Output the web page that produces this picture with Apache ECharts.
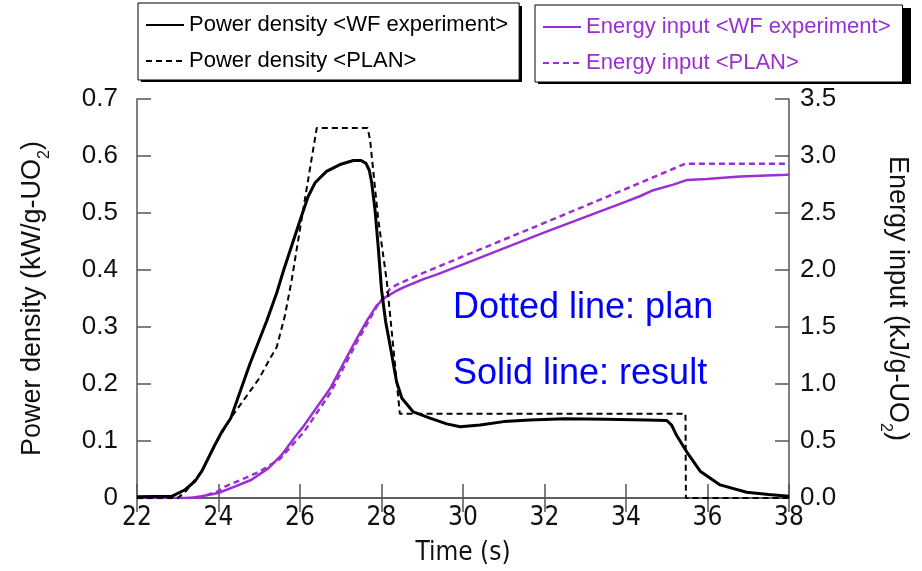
<!DOCTYPE html>
<html><head><meta charset="utf-8">
<script src="https://cdn.jsdelivr.net/npm/echarts@6/dist/echarts.min.js"></script>
<style>html,body{margin:0;padding:0;background:#fff}#c{width:922px;height:571px}</style>
</head><body><div id="c"></div>
<script>
// ---------- data ----------
const seriesNames = [
  'Power density <WF experiment>',
  'Power density <PLAN>',
  'Energy input <WF experiment>',
  'Energy input <PLAN>'
];
const xTicks = [22, 24, 26, 28, 30, 32, 34, 36, 38];
const powerTicks = [0, 0.1, 0.2, 0.3, 0.4, 0.5, 0.6, 0.7];
const energyTicks = [0, 0.5, 1.0, 1.5, 2.0, 2.5, 3.0, 3.5];

const powerExpT = [22, 22.85, 23.18, 23.42, 23.59, 23.75, 23.91, 24.08, 24.3, 24.77, 25.18, 25.43, 25.6, 26.0, 26.2, 26.37, 26.65, 26.98, 27.31, 27.5, 27.62, 27.7, 27.76, 27.84, 27.92, 28.0, 28.1, 28.21, 28.37, 28.5, 28.78, 29.19, 29.6, 29.93, 30.42, 31.0, 31.64, 32.5, 33.5, 34.5, 35.0, 35.12, 35.24, 35.49, 35.82, 36.31, 36.96, 37.5, 38];
const powerExpV = [0.002, 0.003, 0.0145, 0.029, 0.047, 0.07, 0.093, 0.116, 0.14, 0.235, 0.31, 0.36, 0.40, 0.487, 0.529, 0.553, 0.573, 0.585, 0.592, 0.592, 0.587, 0.575, 0.553, 0.506, 0.44, 0.366, 0.31, 0.268, 0.204, 0.175, 0.151, 0.140, 0.130, 0.125, 0.128, 0.134, 0.137, 0.139, 0.138, 0.137, 0.136, 0.128, 0.11, 0.081, 0.047, 0.023, 0.010, 0.006, 0.003];

const powerPlanT = [22, 23.0, 23.2, 23.59, 23.91, 24.3, 24.53, 25.0, 25.26, 25.43, 25.63, 25.8, 25.95, 26.12, 26.41, 27.66, 27.72, 27.92, 28.13, 28.45, 35.46, 35.47, 38];
const powerPlanV = [0, 0, 0.012, 0.047, 0.093, 0.14, 0.163, 0.21, 0.244, 0.265, 0.32, 0.384, 0.45, 0.524, 0.649, 0.649, 0.628, 0.489, 0.38, 0.148, 0.148, 0, 0];

const energyExpT = [22, 23.3, 23.59, 23.99, 24.4, 24.81, 25.22, 25.55, 25.88, 26.08, 26.4, 26.74, 27.05, 27.39, 27.65, 27.88, 28.09, 28.37, 28.54, 29.03, 29.35, 30.0, 31.0, 32.0, 33.04, 34.0, 34.34, 34.67, 35.16, 35.5, 35.98, 36.8, 37.94, 38];
const energyExpV = [0, 0, 0.015, 0.044, 0.10, 0.16, 0.26, 0.378, 0.538, 0.626, 0.79, 0.96, 1.17, 1.396, 1.56, 1.687, 1.76, 1.818, 1.847, 1.92, 1.96, 2.05, 2.19, 2.33, 2.47, 2.60, 2.647, 2.70, 2.749, 2.79, 2.798, 2.82, 2.836, 2.837];

const energyPlanT = [22, 23.5, 24.0, 24.16, 24.65, 25.0, 25.5, 26.1, 26.74, 27.4, 27.9, 28.2, 28.37, 28.8, 30.0, 31.64, 34.34, 35.45, 38];
const energyPlanV = [0, 0, 0.06, 0.10, 0.175, 0.23, 0.34, 0.58, 0.92, 1.37, 1.69, 1.83, 1.87, 1.94, 2.12, 2.36, 2.763, 2.932, 2.932];

const noteLines = ['Dotted line: plan', 'Solid line: result'];

// ---------- styling ----------
const PURPLE = '#9a2fd2';
const FONT = '"Liberation Sans", Arial, sans-serif';
const NARROW = '"Liberation Sans Narrow", "Arial Narrow", "DejaVu Sans Condensed", sans-serif';
const AXIS_COLOR = '#555';

const pairs = (t, v) => t.map((x, i) => [x, v[i]]);

const chart = echarts.init(document.getElementById('c'), null, {renderer: 'canvas'});

const axisLineStyle = {show: true, lineStyle: {color: AXIS_COLOR, width: 1.5}};
const tickStyle = {show: true, inside: true, length: 14, lineStyle: {color: AXIS_COLOR, width: 1.5}};

const legendBase = {
  orient: 'vertical',
  itemWidth: 38, itemHeight: 14, itemGap: 14,
  itemStyle: {opacity: 0},
  borderColor: '#000', borderWidth: 1,
  backgroundColor: '#fff',
  z: 10,
  selectedMode: false
};

// legend box frames (used for the offset drop shadow behind each legend)
const legendBoxes = [
  {left: 138, top: 3, width: 381, height: 76, padding: [11, 11, 8, 7]},
  {left: 535, top: 5, width: 373, height: 76, padding: [11, 12, 8, 7]}
];

const option = {
  animation: false,
  backgroundColor: '#fff',
  grid: {left: 137, right: 133, top: 99, bottom: 71, containLabel: false},
  legend: [
    Object.assign({}, legendBase, {
      left: legendBoxes[0].left, top: legendBoxes[0].top, padding: legendBoxes[0].padding,
      data: [seriesNames[0], seriesNames[1]],
      textStyle: {fontFamily: FONT, fontSize: 22, color: '#000'}
    }),
    Object.assign({}, legendBase, {
      left: legendBoxes[1].left, top: legendBoxes[1].top, padding: legendBoxes[1].padding,
      data: [seriesNames[2], seriesNames[3]],
      textStyle: {fontFamily: FONT, fontSize: 22, color: PURPLE}
    })
  ],
  xAxis: [
    {
      type: 'value', position: 'bottom',
      min: xTicks[0], max: xTicks[xTicks.length - 1], interval: 2,
      axisLine: axisLineStyle, axisTick: tickStyle, splitLine: {show: false},
      axisLabel: {fontFamily: NARROW, fontSize: 26, color: '#111', margin: 7},
      name: 'Time (s)', nameLocation: 'middle', nameGap: 42,
      nameTextStyle: {fontFamily: NARROW, fontSize: 26, color: '#111'}
    },
    {
      type: 'value', position: 'top',
      min: xTicks[0], max: xTicks[xTicks.length - 1], interval: 2,
      axisLine: axisLineStyle, axisTick: tickStyle, splitLine: {show: false},
      axisLabel: {show: false}
    }
  ],
  yAxis: [
    {
      type: 'value', position: 'left',
      min: powerTicks[0], max: powerTicks[powerTicks.length - 1], interval: 0.1,
      axisLine: axisLineStyle, axisTick: tickStyle, splitLine: {show: false},
      axisLabel: {
        fontFamily: FONT, fontSize: 26, color: '#111', margin: 19,
        formatter: v => (Math.abs(v) < 1e-9 ? '0' : v.toFixed(1))
      },
      name: '{a|Power density (kW/g-UO}{s|2}{a|)}',
      nameLocation: 'middle', nameRotate: 90, nameGap: 84,
      nameTextStyle: {
        rich: {
          a: {fontFamily: FONT, fontSize: 27, color: '#111', lineHeight: 27, verticalAlign: 'top'},
          s: {fontFamily: FONT, fontSize: 16, color: '#111', lineHeight: 34, verticalAlign: 'bottom'}
        }
      }
    },
    {
      type: 'value', position: 'right',
      min: energyTicks[0], max: energyTicks[energyTicks.length - 1], interval: 0.5,
      axisLine: axisLineStyle, axisTick: tickStyle, splitLine: {show: false},
      axisLabel: {
        fontFamily: FONT, fontSize: 26, color: '#111', margin: 11,
        formatter: v => v.toFixed(1)
      },
      name: '{a|Energy input (kJ/g-UO}{s|2}{a|)}',
      nameLocation: 'middle', nameRotate: -90, nameGap: 88,
      nameTextStyle: {
        rich: {
          a: {fontFamily: FONT, fontSize: 27, color: '#111', lineHeight: 27, verticalAlign: 'top'},
          s: {fontFamily: FONT, fontSize: 16, color: '#111', lineHeight: 34, verticalAlign: 'bottom'}
        }
      }
    }
  ],
  series: [
    {
      name: seriesNames[2], type: 'line', yAxisIndex: 1, symbol: 'none', silent: true,
      data: pairs(energyExpT, energyExpV),
      lineStyle: {color: PURPLE, width: 2.5}, itemStyle: {color: PURPLE}
    },
    {
      name: seriesNames[3], type: 'line', yAxisIndex: 1, symbol: 'none', silent: true,
      data: pairs(energyPlanT, energyPlanV),
      lineStyle: {color: PURPLE, width: 2.5, type: [6, 4]}, itemStyle: {color: PURPLE}
    },
    {
      name: seriesNames[1], type: 'line', yAxisIndex: 0, symbol: 'none', silent: true,
      data: pairs(powerPlanT, powerPlanV),
      lineStyle: {color: '#000', width: 2, type: [6, 4]}, itemStyle: {color: '#000'}
    },
    {
      name: seriesNames[0], type: 'line', yAxisIndex: 0, symbol: 'none', silent: true,
      data: pairs(powerExpT, powerExpV),
      lineStyle: {color: '#000', width: 3}, itemStyle: {color: '#000'}
    }
  ],
  graphic: [
    {type: 'rect', z: 1, silent: true,
     shape: {x: legendBoxes[0].left + 3, y: legendBoxes[0].top + 3, width: legendBoxes[0].width, height: legendBoxes[0].height},
     style: {fill: '#000'}},
    {type: 'rect', z: 1, silent: true,
     shape: {x: legendBoxes[1].left + 3, y: legendBoxes[1].top + 3, width: legendBoxes[1].width, height: legendBoxes[1].height},
     style: {fill: '#000'}},
    {type: 'text', left: 453, top: 290, style: {text: noteLines[0], font: '36px "Liberation Sans", Arial, sans-serif', fill: '#0000ff'}},
    {type: 'text', left: 453, top: 356, style: {text: noteLines[1], font: '36px "Liberation Sans", Arial, sans-serif', fill: '#0000ff'}}
  ]
};

chart.setOption(option);
</script></body></html>
